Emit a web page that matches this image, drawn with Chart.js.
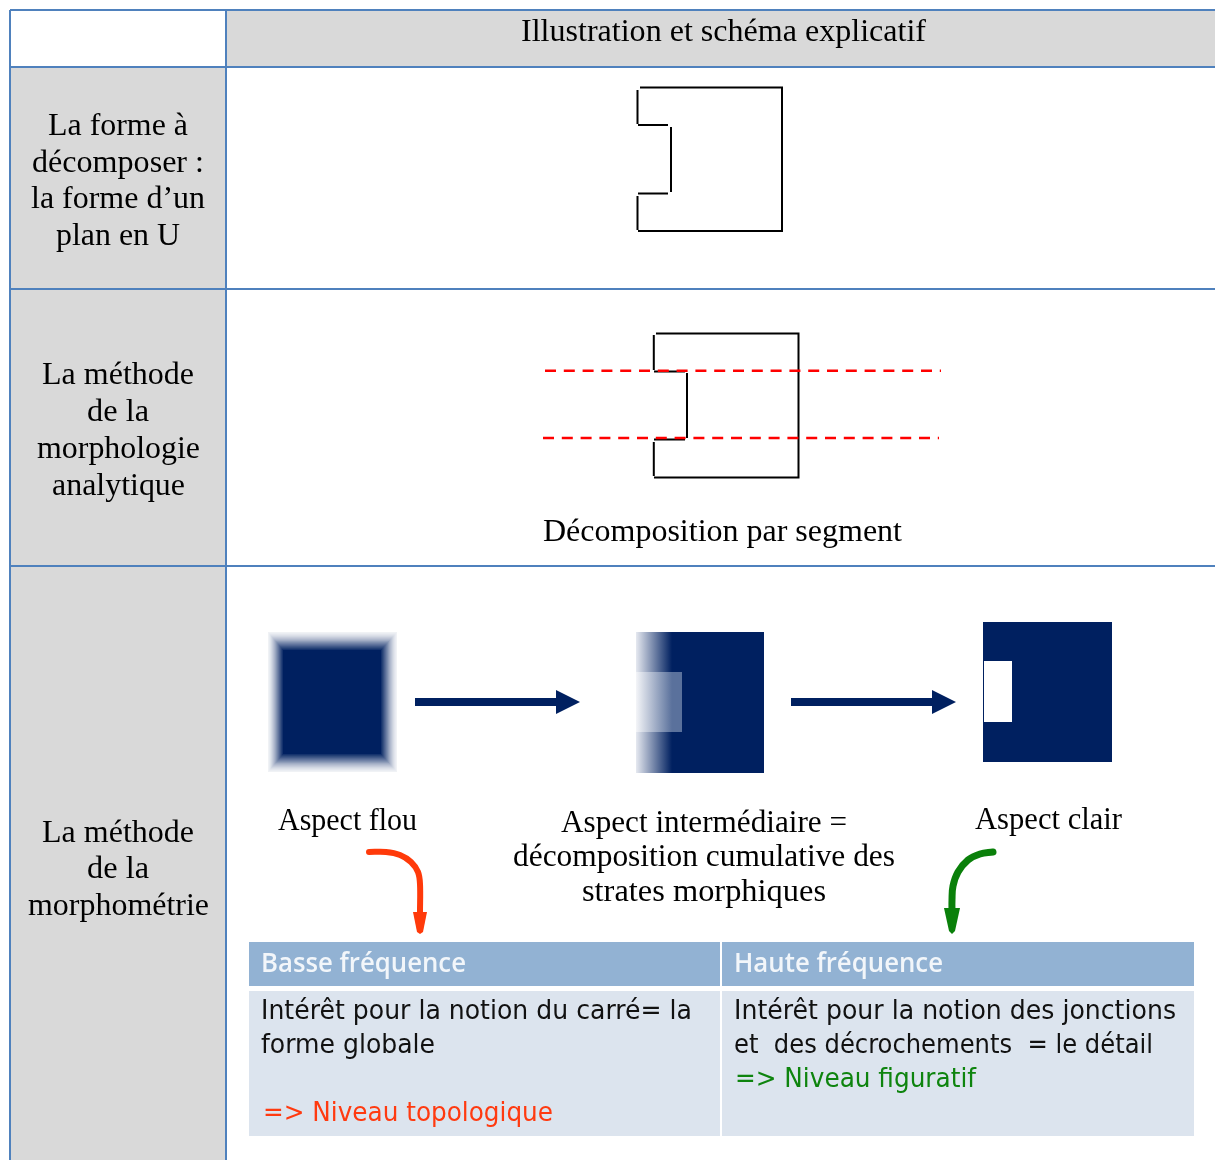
<!DOCTYPE html>
<html lang="fr"><head><meta charset="utf-8"><title>Morphologie et morphométrie</title>
<script src="https://cdn.jsdelivr.net/npm/chart.js@4"></script>
<style>html,body{margin:0;padding:0;background:#fff;overflow:hidden}canvas{display:block}</style>
</head><body><canvas id="c" width="1215" height="1160"></canvas>
<script>
// ---- data (all in page units of the x/y linear scales) ----
const cellFills = [[11,11,225,66,'white'],[227,11,1215,66,'grey'],[11,68,225,1160,'grey']];
const tableRules = [[10,10,1215,10],[10,67,1215,67],[10,289,1215,289],[10,566,1215,566],[10,10,10,1160],[226,10,226,1160]];
const shapeOne = [[[640,87.5],[782,87.5],[782,231],[638,231]],[[637.5,90],[637.5,124]],[[638,125],[668,125]],[[671,127],[671,192]],[[638,193.5],[668,193.5]],[[637.5,196],[637.5,230]]];
const shapeTwo = [[[656,333.5],[798.5,333.5],[798.5,477.5],[654,477.5]],[[653.8,335],[653.8,370]],[[654,371.5],[685,371.5]],[[687,373],[687,438]],[[654,439.5],[685,439.5]],[[653.8,442],[653.8,476]]];
const cutLines = [[545,370.7,941,370.7],[543,438,939,438]];
const blurBands = [0.06,0.09,0.13,0.18,0.24,0.30,0.37,0.44,0.52,0.60,0.68,0.76,0.84,0.92,1];
const blurOuter = [268,632,397,772];
const blurInner = [283,650,381,754];
const midSquare = [636,632,764,773];
const midNotch = [636,672,682,732];
const midFade = [636,672];
const clearSquare = [983,622,1112,762];
const clearNotch = [984,661,1012,722];
const arrowOne = [[415,698],[556,698],[556,690],[580,702],[556,714],[556,706],[415,706]];
const arrowTwo = [[791,698],[932,698],[932,690],[956,702],[932,714],[932,706],[791,706]];
const redCurve = [[369,852],[386,852],[400,855],[411,862],[418,872],[420,884],[420,912]];
const redHead = [[413,912],[427,912],[423,932],[420,934],[417,932]];
const greenCurve = [[993,852],[980,854],[968,860],[958,872],[953,886],[952,900],[952,912]];
const greenHead = [[944,908],[960,908],[955,931],[952,934],[949,931]];
const freqHeaders = [[249,942,720,986],[722,942,1194,986]];
const freqBodies = [[249,991,720,1136],[722,991,1194,1136]];
// text, left, right, baseline, style
const labels = [
 ['Illustration et schéma explicatif',521,926,41,'s'],
 ['La forme à',48,188,135,'s'],['décomposer :',32,204,172,'s'],['la forme d’un',31,205,208,'s'],['plan en U',56,180,245,'s'],
 ['La méthode',42,194,384,'s'],['de la',87,149,421,'s'],['morphologie',37,200,458,'s'],['analytique',52,185,495,'s'],
 ['Décomposition par segment',543,902,541,'s'],
 ['La méthode',42,194,842,'s'],['de la',87,149,878,'s'],['morphométrie',28,209,915,'s'],
 ['Aspect flou',278,417,830,'s'],['Aspect intermédiaire =',561,847,832,'s'],['décomposition cumulative des',513,895,866,'s'],['strates morphiques',582,826,901,'s'],['Aspect clair',975,1122,829,'s'],
 ['Basse fréquence',261,466,972,'h'],['Haute fréquence',734,943,972,'h'],
 ['Intérêt pour la notion du carré= la',261,692,1019,'b'],['forme globale',261,435,1053,'b'],['=> Niveau topologique',263,553,1121,'r'],
 ['Intérêt pour la notion des jonctions',734,1176,1019,'b'],['et  des décrochements  = le détail',734,1153,1053,'b'],['=> Niveau figuratif',735,976,1087,'g']
];
// ---- styles ----
const NAVY='#002060', GREY='#d9d9d9', RULE='#4f81bd';
const textStyles={s:['31px "Liberation Serif"','#000'],h:['600 27px "Open Sans"','#f2f6fa'],b:['26px "DejaVu Sans"','#111'],r:['26px "DejaVu Sans"','#ff3a10'],g:['26px "DejaVu Sans"','#0e840e']};
const toPts=a=>a.map(p=>({x:p[0],y:p[1]}));
const rectPts=r=>[[r[0],r[1]],[r[2],r[1]],[r[2],r[3]],[r[0],r[3]],[r[0],r[1]]];
const ds=[];
const fillShape=(pts,color)=>ds.push({data:toPts(pts),showLine:true,fill:'shape',backgroundColor:color,borderColor:'rgba(0,0,0,0)',borderWidth:0,pointRadius:0,tension:0});
const stroke=(pts,color,w,extra)=>ds.push(Object.assign({data:toPts(pts),showLine:true,fill:false,borderColor:color,borderWidth:w,pointRadius:0,tension:0},extra||{}));
const mix=a=>{const f=(n)=>Math.round(255+(n-255)*a);return `rgb(${f(0)},${f(32)},${f(96)})`;};
const fade=(colorA,colorB)=>c=>{const x=c.chart.scales.x;if(!x)return colorB;const p0=x.getPixelForValue(midFade[0]),p1=x.getPixelForValue(midFade[1]);if(!isFinite(p0)||!isFinite(p1))return colorB;const g=c.chart.ctx.createLinearGradient(p0,0,p1,0);g.addColorStop(0,colorA);g.addColorStop(1,colorB);return g;};

cellFills.forEach(r=>fillShape(rectPts(r),r[4]==='grey'?GREY:'#ffffff'));
tableRules.forEach(r=>stroke([[r[0],r[1]],[r[2],r[3]]],RULE,2));
shapeOne.concat(shapeTwo).forEach(s=>stroke(s,'#000',2));
cutLines.forEach(r=>stroke([[r[0],r[1]],[r[2],r[3]]],'#ff0000',2.5,{borderDash:[11,7.8]}));
blurBands.forEach((a,i)=>{const t=i/(blurBands.length-1);
  const r=blurOuter.map((v,k)=>v+(blurInner[k]-v)*t);
  fillShape(rectPts(r),mix(a));});
fillShape(rectPts(midSquare),fade('#e6e9f0',NAVY));
fillShape(rectPts(midNotch),fade('#f4f5f8','#5a719c'));
fillShape(rectPts(clearSquare),NAVY);
fillShape(rectPts(clearNotch),'#ffffff');
fillShape(arrowOne,NAVY);fillShape(arrowTwo,NAVY);
stroke(redCurve,'#ff3a0a',6,{tension:0.35,borderCapStyle:'round'});fillShape(redHead,'#ff3a0a');
stroke(greenCurve,'#0a800a',7,{tension:0.4,borderCapStyle:'round'});fillShape(greenHead,'#0a800a');
freqHeaders.forEach(r=>fillShape(rectPts(r),'#92b2d3'));
freqBodies.forEach(r=>fillShape(rectPts(r),'#dce4ee'));
ds.forEach((d,i)=>{d.order=ds.length-i;});

const textPlugin={id:'pageText',afterDatasetsDraw(chart){
  const c=chart.ctx,X=chart.scales.x,Y=chart.scales.y;
  labels.forEach(([t,l,r,b,s])=>{
    const [font,col]=textStyles[s];
    c.save();c.font=font;c.fillStyle=col;c.textBaseline='alphabetic';c.textAlign='left';
    const w=c.measureText(t).width,px=X.getPixelForValue(l),target=X.getPixelForValue(r)-px;
    c.translate(px,Y.getPixelForValue(b));c.scale(target/w,1);c.fillText(t,0,0);c.restore();
  });
}};
new Chart(document.getElementById('c'),{type:'scatter',data:{datasets:ds},plugins:[textPlugin],options:{
  responsive:false,animation:false,devicePixelRatio:1,layout:{padding:0},
  plugins:{legend:{display:false},title:{display:false},tooltip:{enabled:false}},
  events:[],
  scales:{x:{type:'linear',min:0,max:1215,display:false},y:{type:'linear',min:0,max:1160,reverse:true,display:false}}
}});
</script></body></html>
